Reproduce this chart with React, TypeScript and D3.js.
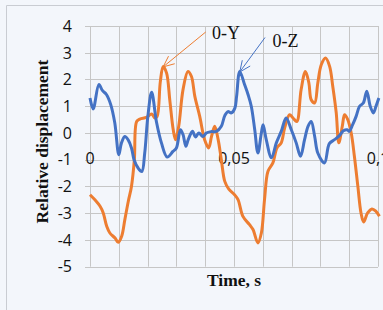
import React, { useEffect, useRef } from "react";
import * as d3 from "d3";

// 0-Z (blue) series
const zTime = [
  0, 0.0011, 0.0031, 0.0043, 0.0057, 0.0072, 0.0086, 0.01, 0.0109, 0.0121,
  0.0132, 0.0144, 0.0153, 0.0167, 0.018, 0.019, 0.0201, 0.0214, 0.0231, 0.0248,
  0.0268, 0.0288, 0.03, 0.0314, 0.0323, 0.0333, 0.0341, 0.0356, 0.0366, 0.0378,
  0.0392, 0.0404, 0.042, 0.0439, 0.0456, 0.0468, 0.0479, 0.0491, 0.0503, 0.0509,
  0.052, 0.0537, 0.0549, 0.056, 0.0572, 0.0583, 0.0595, 0.0601, 0.0612, 0.063,
  0.0647, 0.0664, 0.0681, 0.0699, 0.0716, 0.0731, 0.0745, 0.0757, 0.0768, 0.078,
  0.0791, 0.0814, 0.0831, 0.0849, 0.0866, 0.088, 0.0893, 0.09, 0.0912, 0.0924,
  0.0936, 0.0949, 0.0961, 0.0973, 0.0984, 0.0993, 0.1003,
];
const zValues = [
  1.31, 0.9, 1.81, 1.59, 1.44, 1.06, 0.38, -0.81, -0.38, -0.13,
  -0.25, -0.56, -1.0, -1.31, -1.44, -0.75, 0.63, 1.52, 0.4, -0.37,
  -0.9, -0.69, -0.56, 0.12, -0.06, -0.5, -0.25, 0.06, -0.15, 0.0,
  -0.13, 0.0, 0.05, 0.06, 0.25, 0.65, 0.8, 0.75, 0.93, 1.37,
  2.3, 1.8, 1.43, 1.0, 0.12, -0.75, 0.0, 0.31, -0.25, -0.93,
  -0.37, 0.06, 0.56, 0.12, -0.37, -0.87, -0.25, 0.25, 0.43, -0.12,
  -0.75, -1.12, -0.4, -0.25, -0.1, 0.08, 0.12, 0.06, 0.31, 0.62,
  1.0, 1.12, 1.56, 1.0, 0.75, 1.0, 1.31,
];

// 0-Y (orange) series
const yTime = [
  0, 0.0017, 0.0035, 0.0046, 0.0058, 0.0069, 0.0087, 0.0098, 0.011, 0.0121,
  0.0133, 0.0144, 0.0154, 0.0162, 0.0173, 0.0196, 0.0214, 0.0225, 0.0233, 0.0244,
  0.0254, 0.0266, 0.0277, 0.0289, 0.0297, 0.0308, 0.0323, 0.034, 0.0352, 0.0364,
  0.0381, 0.0398, 0.0412, 0.0422, 0.0433, 0.0445, 0.0456, 0.0468, 0.0482, 0.0502,
  0.0514, 0.0531, 0.0554, 0.0566, 0.0583, 0.0595, 0.0606, 0.0618, 0.0635, 0.0649,
  0.0664, 0.0676, 0.0693, 0.0705, 0.0718, 0.0733, 0.0748, 0.076, 0.0768, 0.078,
  0.0791, 0.0803, 0.0818, 0.0832, 0.0843, 0.0855, 0.0864, 0.0876, 0.0884, 0.0895,
  0.0907, 0.0918, 0.093, 0.0941, 0.095, 0.0964, 0.0979, 0.0993, 0.1005,
];
const yValues = [
  -2.31, -2.5, -2.74, -2.99, -3.49, -3.74, -3.93, -4.09, -3.86, -3.24,
  -2.55, -2.0, -1.0, 0.43, 0.52, 0.58, 0.71, 0.56, 0.62, 1.9,
  2.49, 2.24, 1.24, 0.12, -0.25, 0.25, 1.62, 2.3, 2.12, 1.37,
  0.62, -0.25, -0.56, -0.13, 0.25, -0.25, -1.0, -1.81, -2.1, -2.31,
  -2.49, -3.12, -3.43, -3.61, -4.11, -3.74, -2.49, -1.43, -1.12, -0.56,
  -0.37, 0.19, 0.68, 0.56, 0.43, 1.62, 2.3, 1.87, 1.24, 1.12,
  1.87, 2.55, 2.8, 2.49, 1.74, 0.75, -0.37, 0.25, 0.68, 0.5,
  0.0, -0.87, -1.99, -2.99, -3.33, -2.99, -2.84, -2.93, -3.11,
];

const yTicks = [4, 3, 2, 1, 0, -1, -2, -3, -4, -5];
const xTicks = [0, 0.05, 0.1];
const xTickLabels = ["0", "0,05", "0,1"];

const W = 383;
const H = 310;

export default function App() {
  const ref = useRef<SVGSVGElement>(null);

  useEffect(() => {
    const svg = d3.select(ref.current);
    svg.selectAll("*").remove();

    const x = d3.scaleLinear().domain([0, 0.1]).range([90, 378]);
    const y = d3.scaleLinear().domain([-5, 4]).range([266.7, 26]);

    svg.append("rect").attr("width", W).attr("height", H).attr("fill", "#f3f6fb");
    // panel border
    svg
      .append("path")
      .attr("d", `M6.5,${H} V5.5 H${W}`)
      .attr("fill", "none")
      .attr("stroke", "#c9ccd2")
      .attr("stroke-width", 1);

    const grid = svg.append("g").attr("stroke", "#c6c6c6").attr("stroke-width", 1);
    grid
      .selectAll("line.h")
      .data(yTicks)
      .enter()
      .append("line")
      .attr("x1", 85)
      .attr("x2", x(0.1))
      .attr("y1", (d) => Math.round(y(d)) + 0.5)
      .attr("y2", (d) => Math.round(y(d)) + 0.5);
    grid
      .selectAll("line.v")
      .data(d3.range(0, 11).map((i) => i / 100))
      .enter()
      .append("line")
      .attr("x1", (d) => Math.round(x(d)) + 0.5)
      .attr("x2", (d) => Math.round(x(d)) + 0.5)
      .attr("y1", y(4))
      .attr("y2", y(-5));

    const tickFont = "'Open Sans', sans-serif";
    svg
      .append("g")
      .selectAll("text")
      .data(yTicks)
      .enter()
      .append("text")
      .attr("x", 72)
      .attr("y", (d) => y(d))
      .attr("dy", "0.36em")
      .attr("text-anchor", "end")
      .attr("font-family", tickFont)
      .attr("font-size", 16)
      .attr("fill", "#111")
      .text((d) => String(d));

    svg
      .append("g")
      .selectAll("text")
      .data(xTicks)
      .enter()
      .append("text")
      .attr("x", (d) => x(d))
      .attr("y", 158)
      .attr("dy", "0.36em")
      .attr("text-anchor", "middle")
      .attr("font-family", tickFont)
      .attr("font-size", 16)
      .attr("fill", "#111")
      .text((_, i) => xTickLabels[i]);

    const line = d3
      .line<[number, number]>()
      .x((d) => x(d[0]))
      .y((d) => y(d[1]))
      .curve(d3.curveCatmullRom.alpha(0.5));

    svg
      .append("path")
      .attr("d", line(yTime.map((t, i) => [t, yValues[i]] as [number, number])))
      .attr("fill", "none")
      .attr("stroke", "#ed7d31")
      .attr("stroke-width", 3)
      .attr("stroke-linejoin", "round");

    svg
      .append("path")
      .attr("d", line(zTime.map((t, i) => [t, zValues[i]] as [number, number])))
      .attr("fill", "none")
      .attr("stroke", "#4472c4")
      .attr("stroke-width", 3)
      .attr("stroke-linejoin", "round");

    // callouts
    const arrow = (x1: number, y1: number, x2: number, y2: number, color: string) => {
      const a = Math.atan2(y1 - y2, x1 - x2);
      const len = 12;
      const sp = 0.42;
      const w1 = [x2 + len * Math.cos(a + sp), y2 + len * Math.sin(a + sp)];
      const w2 = [x2 + len * Math.cos(a - sp), y2 + len * Math.sin(a - sp)];
      svg
        .append("path")
        .attr("d", `M${x1},${y1} L${x2},${y2} M${w1[0]},${w1[1]} L${x2},${y2} L${w2[0]},${w2[1]}`)
        .attr("fill", "none")
        .attr("stroke", color)
        .attr("stroke-width", 1);
    };
    arrow(205.7, 32, x(0.0254), y(2.49) + 0.5, "#ed7d31");
    arrow(265, 37.5, x(0.052), y(2.3) + 0.5, "#4472c4");

    const serif = "'Liberation Serif', 'Times New Roman', serif";
    svg
      .append("text")
      .attr("x", 212)
      .attr("y", 38.5)
      .attr("font-family", serif)
      .attr("font-size", 18)
      .attr("fill", "#111")
      .text("0-Y");
    svg
      .append("text")
      .attr("x", 272.5)
      .attr("y", 47)
      .attr("font-family", serif)
      .attr("font-size", 18)
      .attr("fill", "#111")
      .text("0-Z");

    svg
      .append("text")
      .attr("transform", "translate(48,141.5) rotate(-90)")
      .attr("text-anchor", "middle")
      .attr("font-family", serif)
      .attr("font-weight", "bold")
      .attr("font-size", 17.5)
      .attr("fill", "#111")
      .text("Relative displacement");

    svg
      .append("text")
      .attr("x", 234)
      .attr("y", 286)
      .attr("text-anchor", "middle")
      .attr("font-family", serif)
      .attr("font-weight", "bold")
      .attr("font-size", 17.5)
      .attr("fill", "#111")
      .text("Time, s");
  }, []);

  return (
    <svg
      ref={ref}
      width={W}
      height={H}
      style={{ position: "absolute", left: 0, top: 0, display: "block" }}
    />
  );
}
